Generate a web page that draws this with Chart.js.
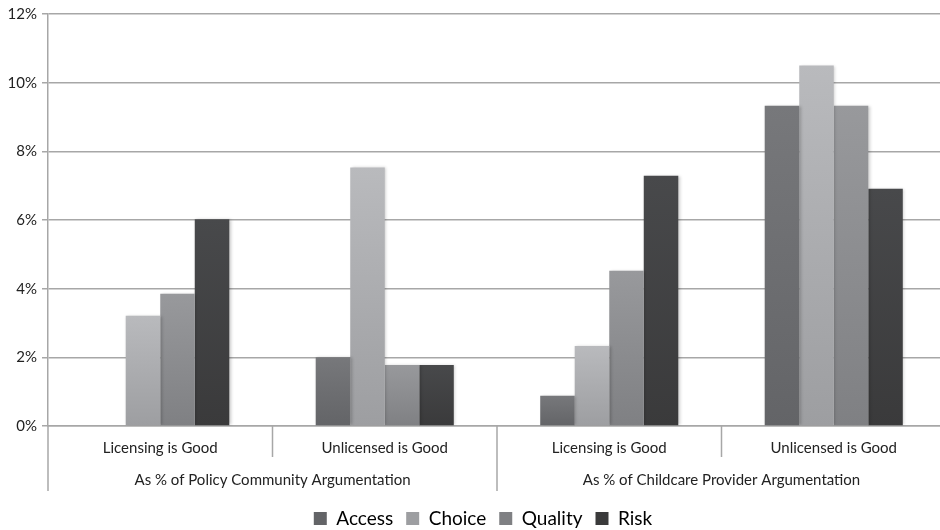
<!DOCTYPE html>
<html>
<head>
<meta charset="utf-8">
<script src="https://cdn.jsdelivr.net/npm/chart.js@4"></script>
<style>
  html, body { margin: 0; padding: 0; background: #fff; overflow: hidden; }
  #wrap { width: 946px; height: 530px; position: relative; }
</style>
</head>
<body>
<div id="wrap"><canvas id="c"></canvas></div>
<script>
// Argument types, as share of each community's argumentation (%)
const categories = ['Licensing is Good', 'Unlicensed is Good', 'Licensing is Good', 'Unlicensed is Good'];
const groupLabels = ['As % of Policy Community Argumentation', 'As % of Childcare Provider Argumentation'];
const seriesNames = ['Access', 'Choice', 'Quality', 'Risk'];
const access  = [0,    2.00, 0.88, 9.33];
const choice  = [3.21, 7.53, 2.33, 10.50];
const quality = [3.85, 1.78, 4.52, 9.33];
const risk    = [6.02, 1.78, 7.29, 6.91];
const yMax = 12;
const yStep = 2;

const FONT = 'Lato, "Open Sans", sans-serif';
const GRID = '#a7a7a7';

// top / bottom shades for each series
const shades = [
  ['#77787b', '#636467'],
  ['#b9babd', '#9d9ea1'],
  ['#98999c', '#7f8083'],
  ['#48494b', '#3a3a3b']
];

function barFill(idx) {
  return function (ctx) {
    const chart = ctx.chart;
    const area = chart.chartArea;
    if (!area || ctx.type !== 'data') return shades[idx][1];
    const y = chart.scales.y;
    const top = y.getPixelForValue(ctx.parsed ? ctx.parsed.y : 0);
    const base = y.getPixelForValue(0);
    if (Math.abs(base - top) < 1) return shades[idx][1];
    const g = chart.ctx.createLinearGradient(0, top, 0, base);
    g.addColorStop(0, shades[idx][0]);
    g.addColorStop(1, shades[idx][1]);
    return g;
  };
}

const values = [access, choice, quality, risk];
const datasets = seriesNames.map((name, i) => ({
  label: name,
  data: values[i],
  backgroundColor: barFill(i),
  borderWidth: 0,
  categoryPercentage: 0.615,
  barPercentage: 1.0
}));

// soft shadow under the bars
const barShadow = {
  id: 'barShadow',
  beforeDatasetsDraw(chart) {
    const c = chart.ctx;
    c.save();
    c.shadowColor = 'rgba(0,0,0,0.22)';
    c.shadowBlur = 3;
    c.shadowOffsetX = 1.5;
    c.shadowOffsetY = 0;
  },
  afterDatasetsDraw(chart) {
    chart.ctx.restore();
  }
};

// legend row sits a little right of the canvas centre
const legendNudge = {
  id: 'legendNudge',
  afterLayout(chart) {
    if (chart.legend) chart.legend.left += 20;
  }
};

// two-level category axis with divider lines
const groupedAxis = {
  id: 'groupedAxis',
  afterDraw(chart) {
    const c = chart.ctx;
    const x = chart.scales.x;
    const base = chart.chartArea.bottom;
    const px = categories.map((_, i) => x.getPixelForValue(i));
    const mid = (a, b) => (a + b) / 2;
    c.save();
    c.strokeStyle = GRID;
    c.lineWidth = 1.5;
    const line = (xx, len) => {
      c.beginPath();
      c.moveTo(xx, base);
      c.lineTo(xx, base + len);
      c.stroke();
    };
    line(x.left, 65);
    line(mid(px[0], px[1]), 31);
    line(mid(px[1], px[2]), 65);
    line(mid(px[2], px[3]), 31);
    line(x.right, 65);

    c.fillStyle = '#222';
    c.font = '15px ' + FONT;
    c.textAlign = 'center';
    c.textBaseline = 'middle';
    categories.forEach((t, i) => c.fillText(t, px[i], base + 22));
    c.fillText(groupLabels[0], mid(x.left, mid(px[1], px[2])), base + 54);
    c.fillText(groupLabels[1], mid(mid(px[1], px[2]), x.right), base + 54);
    c.restore();
  }
};

new Chart(document.getElementById('c'), {
  type: 'bar',
  data: { labels: categories, datasets },
  plugins: [barShadow, legendNudge, groupedAxis],
  options: {
    responsive: true,
    maintainAspectRatio: false,
    animation: false,
    layout: { padding: { top: 14, right: 0, left: 0, bottom: -8 } },
    scales: {
      x: {
        ticks: { display: false },
        grid: { display: false, drawTicks: false },
        border: { display: true, color: GRID, width: 1.5 },
        afterFit(s) { s.height = 70; }
      },
      y: {
        min: 0,
        max: yMax,
        ticks: {
          stepSize: yStep,
          color: '#222',
          font: { family: FONT, size: 15 },
          padding: 5,
          callback: v => v + '%'
        },
        grid: { color: GRID, lineWidth: 1.5, tickLength: 6 },
        border: { display: true, color: GRID, width: 1.5 },
        afterFit(s) { s.width = 48; }
      }
    },
    plugins: {
      tooltip: { enabled: false },
      legend: {
        position: 'bottom',
        labels: {
          color: '#222',
          font: { family: FONT, size: 19 },
          boxWidth: 13,
          boxHeight: 13,
          padding: 13,
          generateLabels(chart) {
            return seriesNames.map((n, i) => ({
              text: n,
              fillStyle: shades[i][1],
              strokeStyle: shades[i][1],
              lineWidth: 0,
              datasetIndex: i,
              hidden: false
            }));
          }
        }
      }
    }
  }
});
</script>
</body>
</html>
